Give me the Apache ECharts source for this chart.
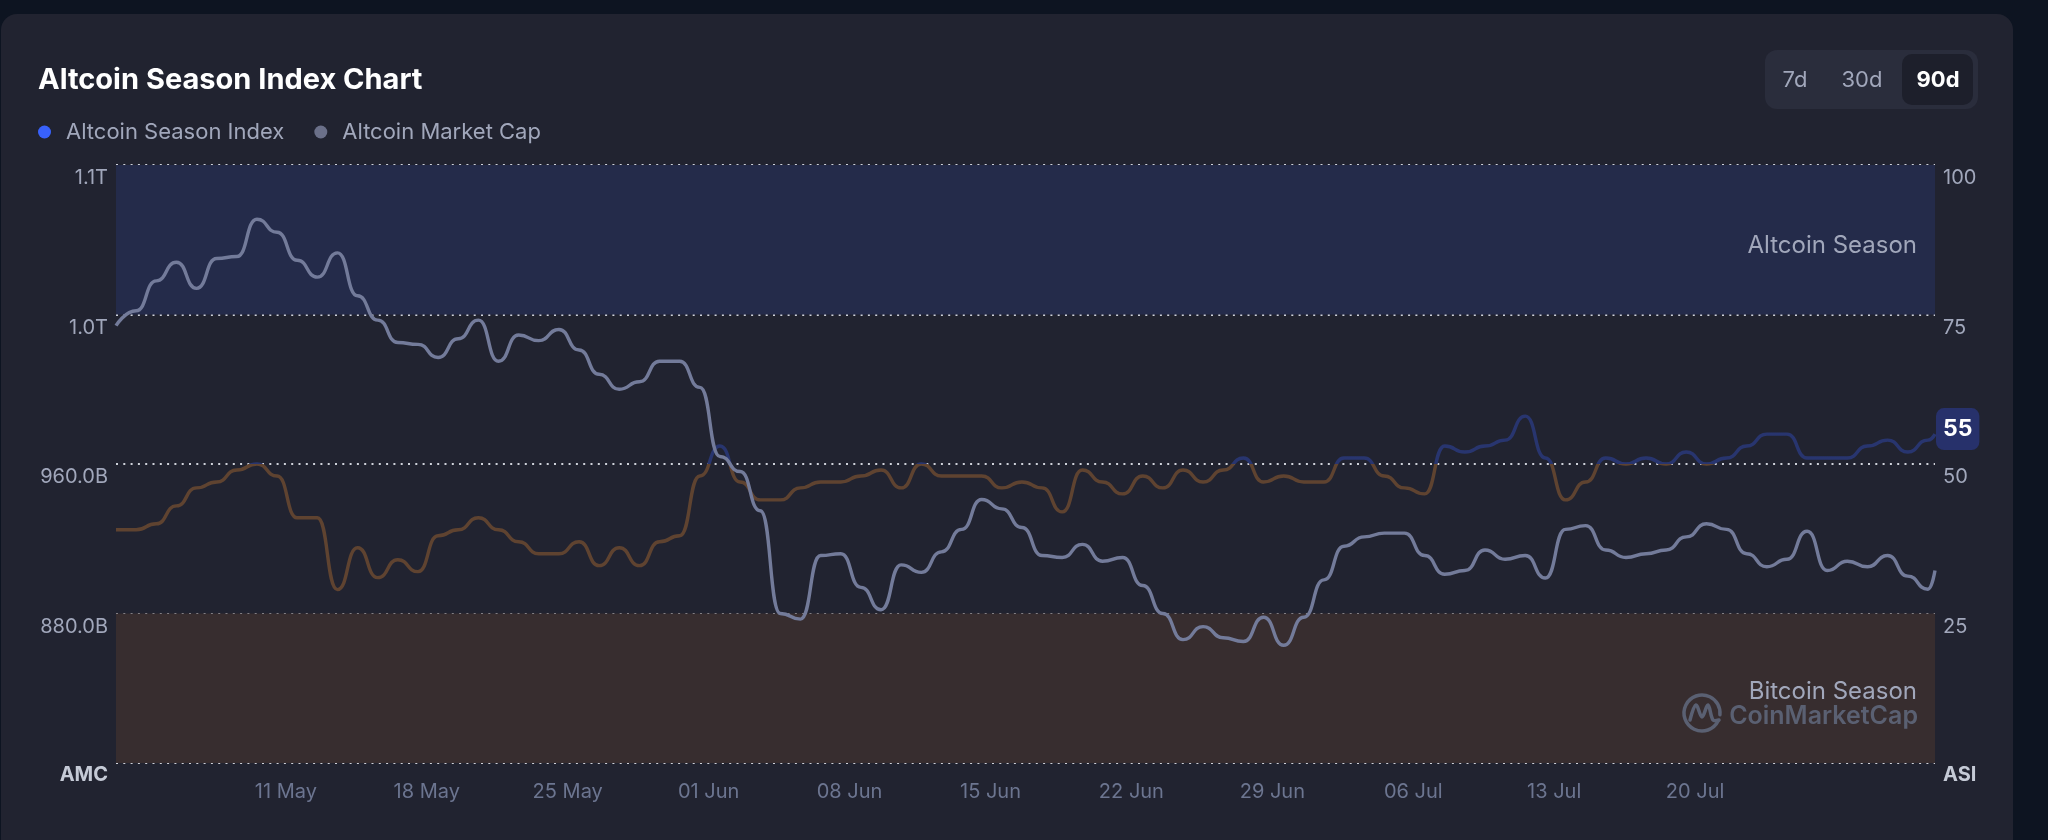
<!DOCTYPE html>
<html>
<head>
<meta charset="utf-8">
<script src="https://cdn.jsdelivr.net/npm/echarts@6/dist/echarts.min.js"></script>
<style>
html,body{margin:0;padding:0;background:#0d1421;width:2048px;height:840px;overflow:hidden}
#chart{width:2048px;height:840px}
</style>
</head>
<body>
<div id="chart"></div>
<script>
// ---- data ----
const FIRST_POINT = '2024-05-02T13:30:00Z';   // first daily point
const LAST_POINT  = '2024-07-31T22:00:00Z';   // latest (partial-day) point
const asiValues = [
  39,39,40,43,46,47,49,50,48,41,41,29,36,31,34,32,38,39,41,39,37,35,35,
  37,33,36,33,37,38,48,53,47,44,44,46,47,47,48,49,46,50,48,48,48,46,47,
  46,42,49,47,45,48,46,49,47,49,51,47,48,47,47,51,51,48,46,45,53,52,53,
  54,58,51,44,47,51,50,51,50,52,50,51,53,55,55,51,51,51,53,54,52,54,55
];
const amcValues = [ // billions USD
  1034,1042,1058,1068,1054,1070,1071,1091,1084,1069,1060,1073,1050,1037,1025,1024,1017,1027,1037,1015,1029,1026,1032,
  1021,1008,1000,1004,1015,1015,1001,964,956,935,880,877,911,912,894,882,906,902,913,925,941,936,926,
  911,910,917,908,910,895,880,866,873,867,865,878,863,878,898,916,921,923,923,911,901,903,914,
  909,911,899,925,927,914,910,912,914,921,928,925,912,905,909,924,903,908,905,911,900,893,903
];
const xTickDates = ['2024-05-11','2024-05-18','2024-05-25','2024-06-01','2024-06-08','2024-06-15',
                    '2024-06-22','2024-06-29','2024-07-06','2024-07-13','2024-07-20'];
const monthNames = ['Jan','Feb','Mar','Apr','May','Jun','Jul','Aug','Sep','Oct','Nov','Dec'];
const amcAxis = { min: 800, max: 1120, interval: 80 };
const asiAxis = { min: 0, max: 100, interval: 25 };
const seasonBands = { altcoin: [75, 100], bitcoin: [0, 25] };
const seasonThreshold = 50;
const rangeButtons = ['7d', '30d', '90d'];

// ---- build (x = days since first point) ----
const DAY = 86400000;
const t0 = Date.parse(FIRST_POINT);
const dayOf = t => (t - t0) / DAY;
const xDays = asiValues.map((v, i) => i < asiValues.length - 1 ? i : dayOf(Date.parse(LAST_POINT)));
const asiData = xDays.map((x, i) => [x, asiValues[i]]);
const amcData = xDays.map((x, i) => [x, amcValues[i]]);
const xTickDays = xTickDates.map(d => dayOf(Date.parse(d + 'T00:00:00Z')));

const FONT = 'Inter';
const LABEL = '#a1a7bb';
const BLUE_LINE = '#28356f';
const ORANGE_LINE = '#5f4330';
const WM = '#5a6072';
const pad2 = n => (n < 10 ? '0' : '') + n;
const fmtDay = v => { const d = new Date(t0 + v * DAY + 3600000); return pad2(d.getUTCDate()) + ' ' + monthNames[d.getUTCMonth()]; };

const chart = echarts.init(document.getElementById('chart'), null, { renderer: 'canvas' });

chart.setOption({
  backgroundColor: 'transparent',
  animation: false,
  textStyle: { fontFamily: FONT },
  title: {
    text: 'Altcoin Season Index Chart',
    left: 38, top: 63, padding: 0,
    textStyle: { fontFamily: FONT, fontSize: 29, fontWeight: 700, color: '#ffffff', lineHeight: 34 }
  },
  legend: {
    left: 38, top: 119, padding: 0,
    icon: 'circle', itemWidth: 13, itemHeight: 13, itemGap: 30,
    selectedMode: false,
    textStyle: { fontFamily: FONT, fontSize: 22, color: LABEL, lineHeight: 26, padding: [0, 0, 0, 10] },
    data: [
      { name: 'Altcoin Season Index', itemStyle: { color: '#3861fb' } },
      { name: 'Altcoin Market Cap', itemStyle: { color: '#6b7089' } }
    ]
  },
  grid: { left: 116, right: 113, top: 165, bottom: 77 },
  xAxis: {
    type: 'value',
    min: xDays[0], max: xDays[xDays.length - 1],
    axisLine: { show: false }, axisTick: { show: false }, splitLine: { show: false },
    axisLabel: {
      customValues: xTickDays,
      formatter: fmtDay,
      color: '#6c7590', fontSize: 20, fontFamily: FONT, margin: 19, lineHeight: 20
    }
  },
  yAxis: [
    {
      type: 'value', position: 'left',
      min: amcAxis.min, max: amcAxis.max, interval: amcAxis.interval,
      axisLine: { show: false }, axisTick: { show: false },
      splitLine: { show: true, lineStyle: { color: '#cfd2da', width: 2, type: [2, 5.3] } },
      axisLabel: {
        margin: 8, color: LABEL, fontSize: 20, fontFamily: FONT, verticalAlign: 'top', lineHeight: 26,
        formatter: v => v === amcAxis.min ? '{b|AMC}' : (v >= 1000 ? (v / 1000).toFixed(1) + 'T' : v.toFixed(1) + 'B'),
        rich: { b: { fontFamily: FONT, fontSize: 20, fontWeight: 700, color: '#c5cad6', lineHeight: 24 } }
      }
    },
    {
      type: 'value', position: 'right',
      min: asiAxis.min, max: asiAxis.max, interval: asiAxis.interval,
      axisLine: { show: false }, axisTick: { show: false }, splitLine: { show: false },
      axisLabel: {
        margin: 8, color: LABEL, fontSize: 20, fontFamily: FONT, verticalAlign: 'top', lineHeight: 26,
        formatter: v => v === asiAxis.min ? '{b|ASI}' : String(v),
        rich: { b: { fontFamily: FONT, fontSize: 20, fontWeight: 700, color: '#c5cad6', lineHeight: 24 } }
      }
    }
  ],
  visualMap: {
    type: 'piecewise', show: false, seriesIndex: 0, dimension: 1,
    pieces: [
      { gte: asiAxis.min, lt: seasonThreshold, color: ORANGE_LINE },
      { gte: seasonThreshold, lte: asiAxis.max, color: BLUE_LINE }
    ],
    outOfRange: { color: ORANGE_LINE }
  },
  series: [
    {
      name: 'Altcoin Season Index', type: 'line', yAxisIndex: 1,
      data: asiData, smooth: 0.55, smoothMonotone: 'x', showSymbol: false, symbol: 'none',
      lineStyle: { width: 3.4 }, itemStyle: { color: '#3861fb' },
      emphasis: { disabled: true }, z: 2,
      endLabel: {
        show: true, formatter: p => String(p.value[1]),
        color: '#ffffff', fontFamily: FONT, fontWeight: 700, fontSize: 23, lineHeight: 24,
        backgroundColor: '#27316b', borderRadius: 8, padding: [9, 7, 9, 7], distance: 1, offset: [0, -5]
      },
      markArea: {
        silent: true,
        data: [
          [ { yAxis: seasonBands.altcoin[0], itemStyle: { color: '#242b4a' },
              label: { show: true, position: 'insideRight', distance: 18, offset: [0, 6], formatter: 'Altcoin Season',
                       color: LABEL, fontFamily: FONT, fontSize: 24 } },
            { yAxis: seasonBands.altcoin[1] } ],
          [ { yAxis: seasonBands.bitcoin[0], itemStyle: { color: '#372d2f' },
              label: { show: true, position: 'insideRight', distance: 18, offset: [0, 4], formatter: 'Bitcoin Season',
                       color: LABEL, fontFamily: FONT, fontSize: 24 } },
            { yAxis: seasonBands.bitcoin[1] } ]
        ]
      }
    },
    {
      name: 'Altcoin Market Cap', type: 'line', yAxisIndex: 0,
      data: amcData, smooth: 0.55, smoothMonotone: 'x', showSymbol: false, symbol: 'none',
      lineStyle: { width: 3.4, color: '#737b9a' }, itemStyle: { color: '#737b9a' },
      emphasis: { disabled: true }, z: 3
    }
  ],
  graphic: [
    { type: 'rect', z: -100, silent: true, shape: { x: 1, y: 14, width: 2012, height: 900, r: 16 }, style: { fill: '#212330' } },
    { type: 'rect', z: -90, silent: true, shape: { x: 1765, y: 50, width: 213, height: 59, r: 12 }, style: { fill: '#2a2d3c' } },
    { type: 'rect', z: -80, silent: true, shape: { x: 1902, y: 54, width: 71, height: 51, r: 10 }, style: { fill: '#1d1f2b' } },
    { type: 'text', silent: true, x: 1795, y: 80, style: { text: rangeButtons[0], fill: LABEL, font: '22px Inter', textAlign: 'center', textVerticalAlign: 'middle' } },
    { type: 'text', silent: true, x: 1862, y: 80, style: { text: rangeButtons[1], fill: LABEL, font: '22px Inter', textAlign: 'center', textVerticalAlign: 'middle' } },
    { type: 'text', silent: true, x: 1938, y: 80, style: { text: rangeButtons[2], fill: '#ffffff', font: 'bold 22px Inter', textAlign: 'center', textVerticalAlign: 'middle' } },
    // watermark
    { type: 'arc', silent: true, z: 50, shape: { cx: 1702, cy: 713, r: 18, startAngle: 0.45, endAngle: Math.PI * 2 + 0.1 },
      style: { stroke: WM, lineWidth: 3.5, fill: null, lineCap: 'round' } },
    { type: 'polyline', silent: true, z: 50, shape: { points: [[1690, 720], [1696, 705], [1702, 717], [1708, 705], [1713, 720], [1719, 720]], smooth: 0.35 },
      style: { stroke: WM, lineWidth: 3.5, fill: null, lineCap: 'round' } },
    { type: 'text', silent: true, z: 50, x: 1918, y: 716, style: { text: 'CoinMarketCap', fill: WM, font: '600 25px Inter', textAlign: 'right', textVerticalAlign: 'middle' } }
  ]
});
</script>
</body>
</html>
